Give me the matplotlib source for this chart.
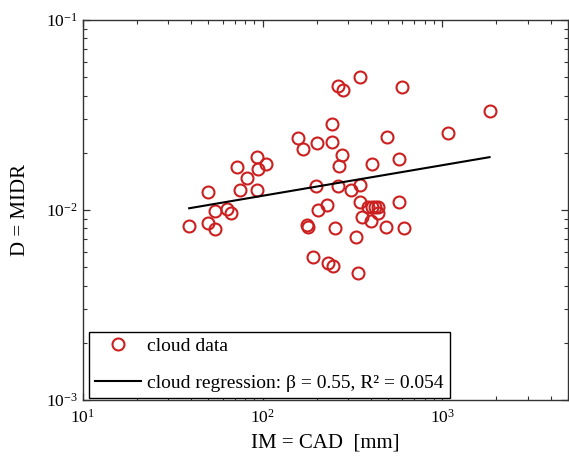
import numpy as np
import matplotlib.pyplot as plt
from matplotlib.ticker import LogLocator, NullFormatter

# cloud data: CAD [mm] vs MIDR
cad = [347, 263, 280, 600, 1831, 1074, 242, 158, 167, 201,
       242, 492, 278, 266, 408, 574, 72.2, 92.6, 94.5, 104.3,
       82.5, 49.9, 74.8, 92.6, 198, 263, 309, 347, 54.3, 63.1,
       66.7, 39.1, 49.9, 54.3, 204, 227, 177, 179, 252, 329,
       347, 356, 572, 385, 405, 421, 437, 439, 403, 489,
       612, 190, 231, 247, 340]
midr = [0.0503, 0.0449, 0.0428, 0.0442, 0.0333, 0.0253, 0.0283, 0.0238, 0.0209, 0.0226,
        0.0229, 0.0241, 0.0195, 0.0170, 0.0175, 0.0185, 0.0168, 0.0191, 0.0164, 0.0174,
        0.0147, 0.0124, 0.0127, 0.0127, 0.0133, 0.0133, 0.0127, 0.0135, 0.00992, 0.01009,
        0.00961, 0.00824, 0.00851, 0.00794, 0.0100, 0.0106, 0.00834, 0.00817, 0.00801, 0.00724,
        0.01106, 0.00915, 0.01106, 0.0104, 0.0104, 0.0104, 0.0104, 0.00961, 0.00879, 0.00811,
        0.00801, 0.00568, 0.00528, 0.00507, 0.00464]

# power-law fit D = a * IM^b
reg_a = 0.00566
reg_b = 0.161
reg_label = 'cloud regression: β = 0.55, R² = 0.054'

plt.rcParams['font.family'] = 'Liberation Serif'
plt.rcParams['mathtext.fontset'] = 'custom'
plt.rcParams['mathtext.rm'] = 'Liberation Serif'
plt.rcParams['mathtext.it'] = 'Liberation Serif:italic'

W, H = 569, 463
fig = plt.figure(figsize=(W / 100, H / 100), dpi=100)
ax = fig.add_axes([82.7 / W, 63 / H, 485.3 / W, 380 / H])
ax.set_xscale('log')
ax.set_yscale('log')

ax.plot(cad, midr, 'o', mfc='none', mec='#cc2020', ms=8.6, mew=1.5,
        label='cloud data')
xs = np.geomspace(min(cad), max(cad), 60)
ax.plot(xs, reg_a * xs ** reg_b, color='black', lw=1.5, label=reg_label)

ax.set_xlim(10, 5000)
ax.set_ylim(1e-3, 1e-1)
for a in (ax.xaxis, ax.yaxis):
    a.set_minor_locator(LogLocator(base=10, subs=np.arange(2, 10)))
    a.set_minor_formatter(NullFormatter())
ax.tick_params(which='both', direction='in', top=True, right=True,
               labelsize=12.5, color='#333333')
ax.tick_params(which='major', length=5, width=0.9)
ax.tick_params(which='minor', length=3, width=0.8)
ax.tick_params(axis='x', which='major', pad=6)
for s in ax.spines.values():
    s.set_color('#333333')
    s.set_linewidth(1.0)

ax.set_xlabel('IM = CAD  [mm]', fontsize=15)
ax.set_ylabel('D = MIDR', fontsize=15)
ax.xaxis.set_label_coords(0.5, -0.087)
ax.yaxis.set_label_coords(-0.108, 0.5)

leg = ax.legend(loc='lower left', bbox_to_anchor=(0.013, 0.005), fontsize=14,
                frameon=True, fancybox=False, edgecolor='black', framealpha=1,
                borderaxespad=0, handlelength=2.35, handletextpad=0.35,
                labelspacing=1.0, borderpad=0.3, numpoints=1)
leg.get_frame().set_linewidth(1.0)

fig.savefig('out.png', dpi=100)
